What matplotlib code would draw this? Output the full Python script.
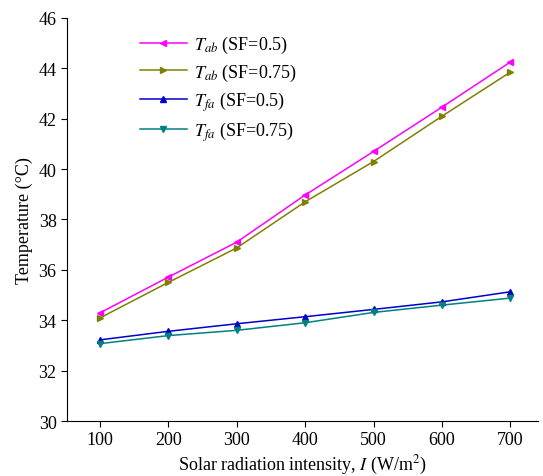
import matplotlib
matplotlib.use('Agg')
import matplotlib.pyplot as plt

plt.rcParams['font.family'] = ['Liberation Serif', 'DejaVu Serif']
plt.rcParams['mathtext.fontset'] = 'stix'

intensity = [100, 200, 300, 400, 500, 600, 700]
t_ab_05 = [34.29, 35.71, 37.10, 38.97, 40.70, 42.46, 44.25]
t_ab_075 = [34.09, 35.50, 36.87, 38.70, 40.30, 42.10, 43.85]
t_fa_05 = [33.22, 33.56, 33.86, 34.14, 34.43, 34.73, 35.13]
t_fa_075 = [33.07, 33.39, 33.60, 33.90, 34.31, 34.60, 34.88]

fig = plt.figure(figsize=(5.43, 4.77), dpi=100)
ax = fig.add_axes([0.1234, 0.1153, 0.867, 0.845])

ax.plot(intensity, t_ab_05, color='#ff00ff', marker='<', ms=5, lw=1.1,
        label=r'$T_{ab}$ (SF=0.5)')
ax.plot(intensity, t_ab_075, color='#808000', marker='>', ms=5, lw=1.1,
        label=r'$T_{ab}$ (SF=0.75)')
ax.plot(intensity, t_fa_05, color='#0000cc', marker='^', ms=5, lw=1.1,
        label=r'$T_{fa}$ (SF=0.5)')
ax.plot(intensity, t_fa_075, color='#008080', marker='v', ms=5, lw=1.1,
        label=r'$T_{fa}$ (SF=0.75)')

ax.set_xlim(52, 740)
ax.set_ylim(30, 46)
ax.set_xticks(intensity)
ax.set_yticks(range(30, 47, 2))
ax.spines['top'].set_visible(False)
ax.spines['right'].set_visible(False)
ax.tick_params(labelsize=13, direction='out', length=4)

ax.set_xlabel(r'Solar radiation intensity, $I$ (W/m$^2$)', fontsize=13, labelpad=3)
ax.set_ylabel('Temperature (°C)', fontsize=13)

ax.legend(loc='upper left', bbox_to_anchor=(0.12, 1.0), frameon=False,
          fontsize=13, handlelength=2.6, handletextpad=0.4, labelspacing=0.35)

fig.savefig('out.png', dpi=100)
